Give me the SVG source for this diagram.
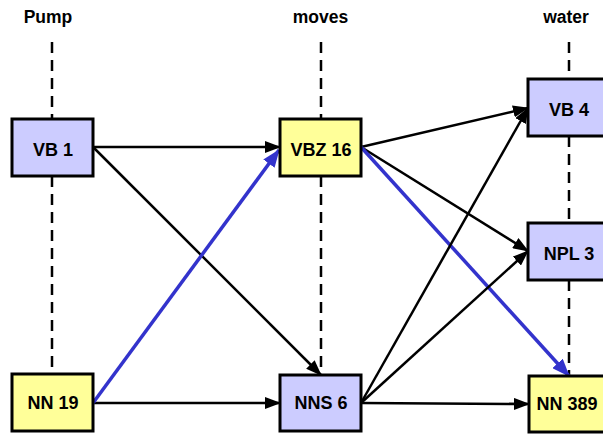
<svg xmlns="http://www.w3.org/2000/svg" width="603" height="435" viewBox="0 0 603 435">
<style>
.hdr{font-family:"Liberation Sans",Arial,sans-serif;font-weight:bold;font-size:17.5px;text-anchor:middle;fill:#000}
.lbl{font-family:"Liberation Sans",Arial,sans-serif;font-weight:bold;font-size:18px;text-anchor:middle;fill:#000}
.blue{fill:#ccccff;stroke:#000;stroke-width:3}
.yel{fill:#ffff99;stroke:#000;stroke-width:3}
.dash{stroke:#000;stroke-width:2.5;stroke-dasharray:11,7;fill:none}
.k{stroke:#000;stroke-width:2.5;fill:none;marker-end:url(#ak)}
.b{stroke:#3333cc;stroke-width:3.5;fill:none;marker-end:url(#ab)}
</style>
<defs>
<marker id="ak" markerUnits="userSpaceOnUse" markerWidth="16" markerHeight="12" refX="15" refY="6" orient="auto"><path d="M0,0 L16,6 L0,12 Z" fill="#000"/></marker>
<marker id="ab" markerUnits="userSpaceOnUse" markerWidth="18" markerHeight="14" refX="17" refY="7" orient="auto"><path d="M0,0 L18,7 L0,14 Z" fill="#3333cc"/></marker>
</defs>
<text class="hdr" x="48" y="23">Pump</text>
<text class="hdr" x="320.5" y="23">moves</text>
<text class="hdr" x="566" y="23">water</text>
<g id="lifelines">
<line class="dash" x1="52" y1="42" x2="52" y2="119"/>
<line class="dash" x1="52" y1="176" x2="52" y2="374"/>
<line class="dash" x1="321" y1="42" x2="321" y2="119"/>
<line class="dash" x1="321" y1="176" x2="321" y2="375"/>
<line class="dash" x1="569" y1="42" x2="569" y2="79"/>
<line class="dash" x1="569" y1="136" x2="569" y2="223"/>
<line class="dash" x1="569" y1="280" x2="569" y2="376"/>
</g>
<g id="connectors">
<line class="k" x1="93" y1="147" x2="280" y2="147"/>
<line class="k" x1="93" y1="147" x2="321" y2="375"/>
<line class="k" x1="93" y1="403" x2="280" y2="403"/>
<line class="b" x1="93" y1="403" x2="279" y2="150"/>
<line class="k" x1="361" y1="147" x2="528" y2="108"/>
<line class="k" x1="361" y1="147" x2="528" y2="251"/>
<line class="b" x1="361" y1="147" x2="569" y2="376"/>
<line class="k" x1="361" y1="403" x2="528" y2="108"/>
<line class="k" x1="361" y1="403" x2="528" y2="251"/>
<line class="k" x1="361" y1="403" x2="529" y2="404"/>
</g>
<g id="VB1"><rect class="blue" x="12" y="119" width="81" height="57"/><text class="lbl" x="53" y="156">VB 1</text></g>
<g id="VBZ16"><rect class="yel" x="280" y="119" width="81" height="57"/><text class="lbl" x="321" y="156">VBZ 16</text></g>
<g id="VB4"><rect class="blue" x="528" y="79" width="81" height="57"/><text class="lbl" x="569" y="116">VB 4</text></g>
<g id="NPL3"><rect class="blue" x="528" y="223" width="81" height="57"/><text class="lbl" x="569" y="260">NPL 3</text></g>
<g id="NN19"><rect class="yel" x="12" y="374" width="81" height="57"/><text class="lbl" x="53" y="409">NN 19</text></g>
<g id="NNS6"><rect class="blue" x="280" y="375" width="81" height="56"/><text class="lbl" x="321" y="409">NNS 6</text></g>
<g id="NN389"><rect class="yel" x="529" y="376" width="81" height="56"/><text class="lbl" x="567" y="410">NN 389</text></g>
</svg>
